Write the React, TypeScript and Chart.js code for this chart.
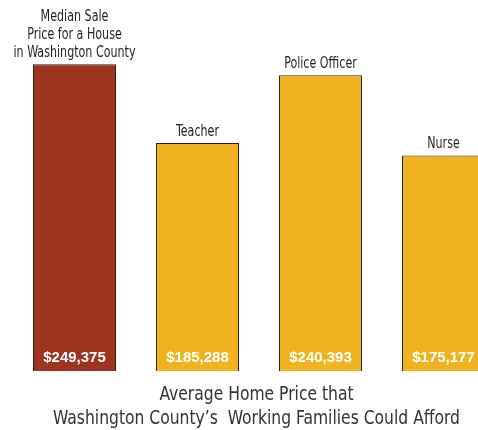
import React, { useEffect, useRef } from "react";
import { Chart, registerables } from "chart.js";

Chart.register(...registerables);

const categories: string[][] = [
  ["Median Sale", "Price for a House", "in Washington County"],
  ["Teacher"],
  ["Police Officer"],
  ["Nurse"],
];
const values: number[] = [249375, 185288, 240393, 175177];
const barColors: string[] = ["#9c3420", "#f0b31f", "#f0b31f", "#f0b31f"];
const titleLines: string[] = [
  "Average Home Price that",
  "Washington County\u2019s  Working Families Could Afford",
];

const NARROW = '"Liberation Sans Narrow", "DejaVu Sans Condensed", "Arial Narrow", sans-serif';

function narrowText(ctx: CanvasRenderingContext2D, text: string, x: number, y: number, sx: number) {
  ctx.save();
  ctx.translate(x, y);
  ctx.scale(sx, 1);
  ctx.fillText(text, 0, 0);
  ctx.restore();
}

const labelPlugin = {
  id: "barLabels",
  afterDatasetsDraw(chart: any) {
    const ctx = chart.ctx as CanvasRenderingContext2D;
    const meta = chart.getDatasetMeta(0);
    ctx.save();
    ctx.textAlign = "center";
    ctx.textBaseline = "middle";
    ctx.font = `15px ${NARROW}`;
    const labelSx = 122 / ctx.measureText("in Washington County").width;
    meta.data.forEach((bar: any, i: number) => {
      const lines = categories[i];
      ctx.font = `15px ${NARROW}`;
      ctx.fillStyle = "#231f20";
      const n = lines.length;
      lines.forEach((ln, j) => {
        narrowText(ctx, ln, bar.x, bar.y - 11 - (n - 1 - j) * 18, labelSx);
      });
      ctx.font = `bold 15px "Liberation Sans", Arial, sans-serif`;
      ctx.fillStyle = "#ffffff";
      ctx.fillText("$" + values[i].toLocaleString("en-US"), bar.x, bar.base - 13);
    });
    const cx = 256.5;
    ctx.font = `20px ${NARROW}`;
    ctx.fillStyle = "#333333";
    const titleSx = 407 / ctx.measureText(titleLines[1]).width;
    narrowText(ctx, titleLines[0], cx, 395, titleSx);
    narrowText(ctx, titleLines[1], cx, 419, titleSx);
    ctx.restore();
  },
};

export default function App() {
  const ref = useRef<HTMLCanvasElement | null>(null);
  useEffect(() => {
    if (!ref.current) return;
    const chart = new Chart(ref.current, {
      type: "bar",
      data: {
        labels: categories.map((c) => c.join(" ")),
        datasets: [
          {
            data: values,
            backgroundColor: barColors,
            borderColor: "#2a2010",
            borderWidth: 1,
            barPercentage: 0.675,
            categoryPercentage: 1,
          },
        ],
      },
      options: {
        responsive: false,
        animation: false,
        layout: { padding: { left: 13, right: 15, top: 2, bottom: 59 } },
        scales: {
          x: { display: false },
          y: { display: false, min: 0, max: 300000 },
        },
        plugins: {
          legend: { display: false },
          tooltip: { enabled: false },
          title: { display: false },
        },
      },
      plugins: [labelPlugin],
    });
    return () => chart.destroy();
  }, []);
  return (
    <div
      style={{
        position: "fixed",
        left: 0,
        top: 0,
        width: 478,
        height: 430,
        overflow: "hidden",
        background: "#ffffff",
      }}
    >
      <canvas ref={ref} width={520} height={430} style={{ width: 520, height: 430, display: "block" }} />
    </div>
  );
}
